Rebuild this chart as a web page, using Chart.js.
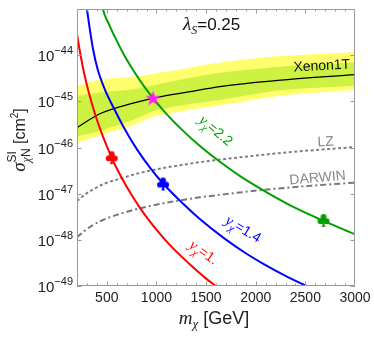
<!DOCTYPE html>
<html>
<head>
<meta charset="utf-8">
<script src="https://cdn.jsdelivr.net/npm/chart.js@4.4.1/dist/chart.umd.min.js"></script>
<style>
  body { margin: 0; background: #fff; }
  #wrap { width: 374px; height: 339px; }
</style>
</head>
<body>
<div id="wrap"><canvas id="dd-chart" width="374" height="339"></canvas></div>
<script>
// all sigma values are log10(sigma / cm^2)
const redMass = [200, 240, 272, 320, 384, 450, 518, 600, 700, 848, 1000, 1134, 1336, 1500, 1619, 1700];
const redLogSigma = [-43.55, -44.05, -44.39, -44.82, -45.29, -45.70, -46.06, -46.45, -46.85, -47.35, -47.78, -48.11, -48.53, -48.84, -49.03, -49.16];

const blueMass = [290, 300, 330, 360, 407, 480, 569, 680, 804, 933, 1067, 1269, 1437, 1690, 1900, 2077, 2300, 2541, 2650];
const blueLogSigma = [-42.85, -43.0, -43.45, -43.85, -44.30, -44.74, -45.14, -45.60, -46.04, -46.43, -46.78, -47.22, -47.55, -47.98, -48.29, -48.52, -48.78, -49.03, -49.14];

const greenMass = [450, 461, 520, 596, 680, 773, 870, 966, 1100, 1269, 1450, 1639, 1850, 2111, 2400, 2683, 3000];
const greenLogSigma = [-42.85, -43.0, -43.32, -43.67, -44.02, -44.35, -44.66, -44.93, -45.27, -45.64, -45.99, -46.31, -46.63, -46.97, -47.31, -47.59, -47.88];

const bandMass = [200, 430, 765, 975, 1340, 1640, 2250, 3000];
const xenonLine = [-45.57, -45.27, -45.04, -44.93, -44.79, -44.68, -44.54, -44.42];
const yellowTop = [-44.66, -44.53, -44.47, -44.40, -44.27, -44.16, -44.02, -43.93];
const yellowBottom = [-45.90, -45.74, -45.52, -45.33, -45.18, -45.09, -44.88, -44.75];
const greenTop = [-44.88, -44.81, -44.74, -44.65, -44.49, -44.38, -44.25, -44.16];
const greenBottom = [-45.76, -45.64, -45.40, -45.21, -45.06, -44.97, -44.76, -44.66];

const lzMass = [200, 280, 360, 480, 629, 800, 1033, 1336, 1690, 2347, 3000];
const lzLogSigma = [-47.16, -47.02, -46.91, -46.78, -46.68, -46.57, -46.46, -46.35, -46.25, -46.10, -45.99];

const darwinMass = [200, 280, 360, 461, 600, 848, 1168, 1437, 1700, 2111, 2550, 3000];
const darwinLogSigma = [-47.94, -47.80, -47.68, -47.57, -47.46, -47.31, -47.17, -47.08, -47.01, -46.91, -46.83, -46.76];

const clubMass = [550, 1067, 2683];
const clubLogSigma = [-46.22, -46.79, -47.58];
const starMass = [966];
const starLogSigma = [-44.93];

const xTicks = [500, 1000, 1500, 2000, 2500, 3000];
const yTickExp = [-44, -45, -46, -47, -48, -49];

const RED = '#ff0000', BLUE = '#0000ff', GREEN = '#00a000';

function pts(xs, ys) {
  return xs.map((x, i) => ({ x: x, y: Math.pow(10, ys[i]) }));
}

function clubCanvas(color) {
  const c = document.createElement('canvas');
  c.width = 14; c.height = 15;
  const g = c.getContext('2d');
  g.fillStyle = color;
  [[7, 4], [3.9, 8.2], [10.1, 8.2], [7, 7.5]].forEach(p => {
    g.beginPath(); g.arc(p[0], p[1], 2.9, 0, 2 * Math.PI); g.fill();
  });
  g.beginPath(); g.moveTo(7, 6); g.lineTo(5.4, 14); g.lineTo(8.6, 14); g.closePath(); g.fill();
  return c;
}

function starCanvas(color) {
  const c = document.createElement('canvas');
  c.width = 17; c.height = 17;
  const g = c.getContext('2d');
  g.fillStyle = color;
  g.beginPath();
  for (let i = 0; i < 10; i++) {
    const r = i % 2 ? 3.2 : 8;
    const a = -Math.PI / 2 + i * Math.PI / 5;
    g.lineTo(8.5 + r * Math.cos(a), 9 + r * Math.sin(a));
  }
  g.closePath(); g.fill();
  return c;
}

// draws a run of text pieces (for sub/superscripts), optionally rotated
function richText(ctx, parts, x, y, angle, align, color) {
  ctx.save();
  ctx.translate(x, y);
  ctx.rotate(angle * Math.PI / 180);
  let w = 0;
  parts.forEach(p => {
    ctx.font = p.font;
    p.w = ctx.measureText(p.t).width;
    if (!p.noAdv) w += p.w;
  });
  let cx = align === 'center' ? -w / 2 : align === 'right' ? -w : 0;
  ctx.textAlign = 'left';
  ctx.textBaseline = 'alphabetic';
  parts.forEach(p => {
    ctx.font = p.font;
    ctx.fillStyle = p.color || color;
    ctx.fillText(p.t, cx, p.dy || 0);
    if (!p.noAdv) cx += p.w;
  });
  ctx.restore();
}

const SANS = '"Liberation Sans", Arial, sans-serif';
const SERIF = '"Liberation Serif", "Times New Roman", serif';

const framePlugin = {
  id: 'frame',
  afterDraw(chart) {
    const ctx = chart.ctx;
    const a = chart.chartArea;
    const xs = chart.scales.x, ys = chart.scales.y;

    // frame with inward ticks
    ctx.save();
    ctx.strokeStyle = '#9a9a9a';
    ctx.lineWidth = 1;
    ctx.strokeRect(a.left + 0.5, a.top + 0.5, a.right - a.left - 1, a.bottom - a.top - 1);
    ctx.beginPath();
    for (let m = 300; m < 3000; m += 100) {
      const px = Math.round(xs.getPixelForValue(m)) + 0.5;
      const len = m % 500 === 0 ? 4.5 : 2.5;
      ctx.moveTo(px, a.bottom); ctx.lineTo(px, a.bottom - len);
      ctx.moveTo(px, a.top); ctx.lineTo(px, a.top + len);
    }
    yTickExp.forEach(e => {
      const py = Math.round(ys.getPixelForValue(Math.pow(10, e))) + 0.5;
      ctx.moveTo(a.left, py); ctx.lineTo(a.left + 4.5, py);
      ctx.moveTo(a.right, py); ctx.lineTo(a.right - 4.5, py);
    });
    ctx.stroke();
    ctx.restore();

    // tick labels
    ctx.save();
    ctx.fillStyle = '#222';
    ctx.font = '14px ' + SANS;
    ctx.textAlign = 'center';
    ctx.textBaseline = 'alphabetic';
    xTicks.forEach(m => ctx.fillText(String(m), xs.getPixelForValue(m), 302));
    ctx.restore();
    yTickExp.forEach(e => {
      const py = ys.getPixelForValue(Math.pow(10, e));
      richText(ctx, [
        { t: '10', font: '15px ' + SANS },
        { t: '\u2212' + Math.abs(e), font: '11px ' + SANS, dy: -7 }
      ], 73, py + 6, 0, 'right', '#222');
    });

    // axis titles
    richText(ctx, [
      { t: 'm', font: 'italic 19px ' + SERIF },
      { t: '\u03c7', font: 'italic 13px ' + SERIF, dy: 4 },
      { t: ' [GeV]', font: '18px ' + SANS }
    ], 214, 324, 0, 'center', '#222');
    richText(ctx, [
      { t: '\u03c3', font: 'italic 19px ' + SERIF },
      { t: 'SI', font: '12px ' + SANS, dy: -9, noAdv: true },
      { t: '\u03c7', font: 'italic 12px ' + SERIF, dy: 5 },
      { t: 'N', font: '12px ' + SANS, dy: 5 },
      { t: ' [cm', font: '16px ' + SANS },
      { t: '2', font: '10px ' + SANS, dy: -7 },
      { t: ']', font: '16px ' + SANS }
    ], 25, 140, -90, 'center', '#222');

    // panel labels
    richText(ctx, [
      { t: '\u03bb', font: 'italic 19px ' + SERIF },
      { t: 'S', font: 'italic 12px ' + SERIF, dy: 4 },
      { t: '=0.25', font: '17px ' + SANS }
    ], 183, 30, 0, 'left', '#111');
    richText(ctx, [{ t: 'Xenon1T', font: '14px ' + SANS }], 322, 70, -3, 'center', '#111');
    richText(ctx, [{ t: 'LZ', font: '14px ' + SANS }], 326, 146, -3, 'center', '#888');
    richText(ctx, [{ t: 'DARWIN', font: '14px ' + SANS }], 318, 182, -5, 'center', '#888');

    const yLabel = (val, color) => [
      { t: 'y', font: 'italic 15px ' + SERIF, color: color },
      { t: '\u03c7', font: 'italic 11px ' + SERIF, dy: 4, color: color },
      { t: '=' + val, font: '14px ' + SANS, color: color }
    ];
    richText(ctx, yLabel('2.2', GREEN), 213, 134, 40, 'center');
    richText(ctx, yLabel('1.4', BLUE), 241, 233, 31, 'center');
    richText(ctx, yLabel('1.', RED), 201, 256, 35, 'center');
  }
};

const curve = (data, color, order) => ({
  data: data, borderColor: color, borderWidth: 2, pointRadius: 0,
  cubicInterpolationMode: 'monotone', fill: false, order: order
});

const ctx = document.getElementById('dd-chart').getContext('2d');
const ddChart = new Chart(ctx, {
  type: 'line',
  data: {
    datasets: [
      { data: pts(bandMass, yellowTop), borderWidth: 0, pointRadius: 0, tension: 0.3,
        backgroundColor: '#ffff6e', fill: '+1', order: 10 },
      { data: pts(bandMass, yellowBottom), borderWidth: 0, pointRadius: 0, tension: 0.3,
        fill: false, order: 10 },
      { data: pts(bandMass, greenTop), borderWidth: 0, pointRadius: 0, tension: 0.3,
        backgroundColor: '#cdf244', fill: '+1', order: 9 },
      { data: pts(bandMass, greenBottom), borderWidth: 0, pointRadius: 0, tension: 0.3,
        fill: false, order: 9 },
      Object.assign(curve(pts(bandMass, xenonLine), '#000', 8), { borderWidth: 1.2 }),
      Object.assign(curve(pts(lzMass, lzLogSigma), '#808080', 7), { borderDash: [3, 2.5] }),
      Object.assign(curve(pts(darwinMass, darwinLogSigma), '#777', 7), { borderDash: [6, 3, 2, 3] }),
      curve(pts(redMass, redLogSigma), RED, 5),
      curve(pts(blueMass, blueLogSigma), BLUE, 5),
      curve(pts(greenMass, greenLogSigma), GREEN, 5),
      { data: pts(clubMass, clubLogSigma), showLine: false, order: 1,
        pointStyle: [clubCanvas(RED), clubCanvas(BLUE), clubCanvas(GREEN)], pointRadius: 6 },
      { data: pts(starMass, starLogSigma), showLine: false, order: 0,
        pointStyle: starCanvas('#ff1aff'), pointRadius: 8 }
    ]
  },
  options: {
    responsive: false,
    animation: false,
    devicePixelRatio: 1,
    layout: { padding: { left: 77, top: 8, right: 19, bottom: 53 } },
    plugins: {
      legend: { display: false },
      tooltip: { enabled: false },
      filler: { propagate: false }
    },
    scales: {
      x: { type: 'linear', min: 200, max: 3000, display: false },
      y: { type: 'logarithmic', min: 1e-49, max: 1e-43, display: false }
    }
  },
  plugins: [framePlugin]
});
</script>
</body>
</html>
